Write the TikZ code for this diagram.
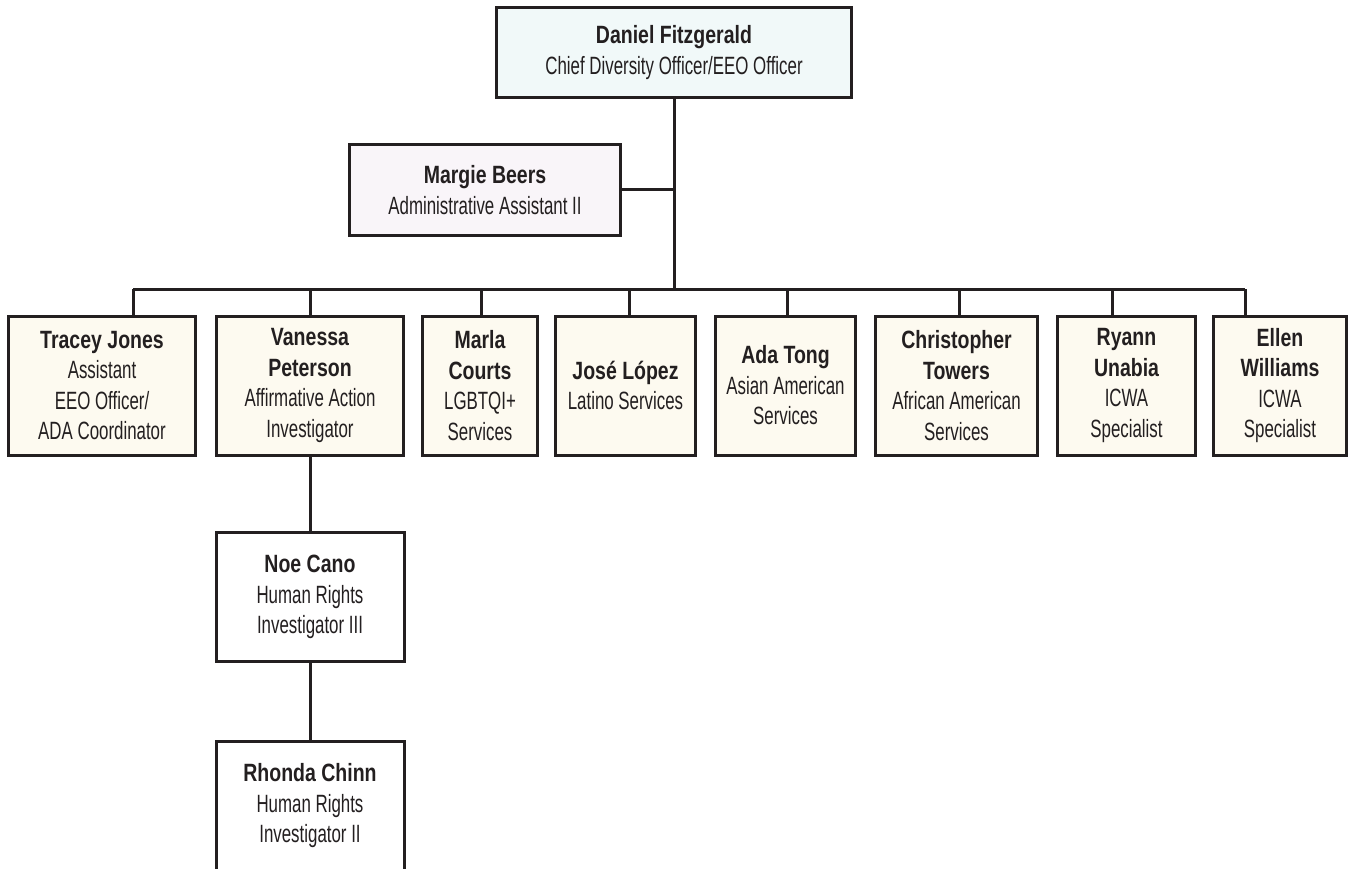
\documentclass[tikz,border=0pt]{standalone}
\usepackage{fontspec}
\setmainfont{Liberation Sans}[FakeStretch=0.675]
\newfontfamily\pnamefont{Liberation Sans}[FakeStretch=0.78]
\newcommand\pname[1]{{\pnamefont\bfseries #1}}
\definecolor{ink}{HTML}{231F20}
\definecolor{topfill}{HTML}{F1F9F9}
\definecolor{admfill}{HTML}{F9F5F9}
\definecolor{rowfill}{HTML}{FDFAF0}
\begin{document}
\begin{tikzpicture}[x=1pt,y=-1pt,
  box/.style={draw=ink, line width=3pt, inner sep=0pt, align=center, text=ink,
    font=\fontsize{25}{30.5}\selectfont},
  rowbox/.style={box, fill=rowfill, minimum height=139pt},
  link/.style={draw=ink, line width=3pt}]
\useasboundingbox (0,0) rectangle (1352,869);
\clip (0,0) rectangle (1352,869);

\node[box, fill=topfill, minimum width=355pt, minimum height=90pt] (top) at (674,52.5)
  {\pname{Daniel Fitzgerald}\\Chief Diversity Officer/EEO Officer};
\node[box, fill=admfill, minimum width=271pt, minimum height=91pt] (adm) at (485,190)
  {\pname{Margie Beers}\\Administrative Assistant II};

\node[rowbox, minimum width=187pt] (n1) at (102,385.5)
  {\pname{Tracey Jones}\\Assistant\\EEO Officer/\\ADA Coordinator};
\node[rowbox, minimum width=187pt] (n2) at (310,385.5)
  {\pname{Vanessa}\\\pname{Peterson}\\Affirmative Action\\Investigator};
\node[rowbox, minimum width=115pt] (n3) at (480,385.5)
  {\pname{Marla}\\\pname{Courts}\\LGBTQI+\\Services};
\node[rowbox, minimum width=140pt] (n4) at (625.5,385.5)
  {\pname{José López}\\Latino Services};
\node[rowbox, minimum width=140pt] (n5) at (785.5,385.5)
  {\pname{Ada Tong}\\Asian American\\Services};
\node[rowbox, minimum width=162pt] (n6) at (956.5,385.5)
  {\pname{Christopher}\\\pname{Towers}\\African American\\Services};
\node[rowbox, minimum width=138pt] (n7) at (1126.5,385.5)
  {\pname{Ryann}\\\pname{Unabia}\\ICWA\\Specialist};
\node[rowbox, minimum width=133pt] (n8) at (1280,385.5)
  {\pname{Ellen}\\\pname{Williams}\\ICWA\\Specialist};

\node[box, fill=white, minimum width=188pt, minimum height=129pt] (noe) at (310,597)
  {\pname{Noe Cano}\\Human Rights\\Investigator III};
\node[box, fill=white, minimum width=188pt, minimum height=129pt] (rho) at (310,806)
  {\pname{Rhonda Chinn}\\Human Rights\\Investigator II};

\coordinate (bus) at (674,289);
\coordinate (d1) at (133,289);
\coordinate (d2) at (310,289);
\coordinate (d3) at (481,289);
\coordinate (d4) at (629,289);
\coordinate (d5) at (787,289);
\coordinate (d6) at (959,289);
\coordinate (d7) at (1112,289);
\coordinate (d8) at (1245,289);

\draw[link] (top.south) -- (bus);
\draw[link] (adm.east) -- (adm.east -| top.south);
\draw[link] (d1) -- (d8);
\foreach \i in {1,...,8} {
  \draw[link] (d\i) -- (d\i |- n\i.north);
}
\draw[link] (n2.south) -- (noe.north);
\draw[link] (noe.south) -- (rho.north);
\end{tikzpicture}
\end{document}
